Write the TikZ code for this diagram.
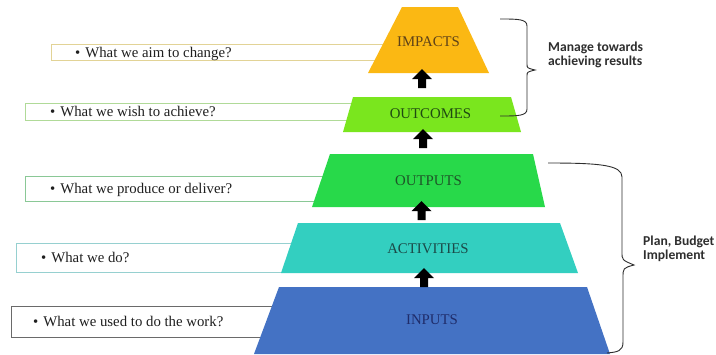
\documentclass[tikz,border=0pt]{standalone}
\usepackage{fontspec}
\setmainfont{Liberation Serif}
\newfontfamily\calibrifont{Carlito}
\definecolor{cimp}{HTML}{FBB813}
\definecolor{cout}{HTML}{7AE61E}
\definecolor{coutp}{HTML}{28D94A}
\definecolor{cact}{HTML}{33CFC0}
\definecolor{cinp}{HTML}{4472C4}
\definecolor{timp}{HTML}{5E4218}
\definecolor{tout}{HTML}{1F4A12}
\definecolor{toutp}{HTML}{1E5428}
\definecolor{tact}{HTML}{1B4A48}
\definecolor{tinp}{HTML}{1F2C6A}
\definecolor{bone}{HTML}{E2D396}
\definecolor{btwo}{HTML}{B0DA98}
\definecolor{bthree}{HTML}{8AC896}
\definecolor{bfour}{HTML}{96D0D0}
\definecolor{bfive}{HTML}{6A6A6A}
\definecolor{bracecol}{HTML}{2E2E2E}
\tikzset{
  levellabel/.style={anchor=base, inner sep=0pt, font=\fontsize{14.8}{16}\selectfont},
  qtext/.style={anchor=base west, inner sep=0pt, font=\fontsize{14.8}{16}\selectfont, text=black!88},
  qbox/.style={line width=0.9pt},
  sidelabel/.style={anchor=base west, inner sep=0pt, align=left, text=bracecol,
     font=\calibrifont\bfseries\fontsize{13.6}{14}\selectfont},
  bracepath/.style={draw=bracecol, line width=0.9pt},
  uparrow/.pic={\fill[black] (-4,0) -- (-4,-9) -- (-10,-9) -- (0,-19) -- (10,-9) -- (4,-9) -- (4,0) -- cycle;}
}
\begin{document}
\begin{tikzpicture}[x=1pt,y=-1pt]
\useasboundingbox[fill=white] (0,0) rectangle (716,354);
% question boxes (behind the pyramid)
\draw[qbox, draw=bone]   (51,44) rectangle (395,60);
\draw[qbox, draw=btwo]   (25,103) rectangle (360,120);
\draw[qbox, draw=bthree] (25,176) rectangle (330,201);
\draw[qbox, draw=bfour]  (16,243) rectangle (300,272);
\draw[qbox, draw=bfive]  (11,306) rectangle (280,337);
% pyramid levels
\fill[cimp]  (402,7) -- (458,7) -- (489,73) -- (368,73) -- cycle;
\fill[cout]  (353,97) -- (511,97) -- (521,132) -- (343,132) -- cycle;
\fill[coutp] (330,154) -- (533,154) -- (545,207) -- (312,207) -- cycle;
\fill[cact]  (298,223) -- (560,223) -- (578,273) -- (281,273) -- cycle;
\fill[cinp]  (279,287) -- (587,287) -- (610,354) -- (254,354) -- cycle;
% level labels
\node[levellabel, text=timp]  (impacts)    at (428.5,46)  {IMPACTS};
\node[levellabel, text=tout]  (outcomes)   at (430.5,118) {OUTCOMES};
\node[levellabel, text=toutp] (outputs)    at (428.5,185) {OUTPUTS};
\node[levellabel, text=tact]  (activities) at (428,253)   {ACTIVITIES};
\node[levellabel, text=tinp]  (inputs)     at (432,324)   {INPUTS};
% arrows
\pic at (422,88)  {uparrow};
\pic at (423,148) {uparrow};
\pic at (421.5,220) {uparrow};
\pic at (424,287) {uparrow};
% question texts
\node[qtext] (q1) at (75,57)  {\textbullet\hspace{5pt}What we aim to change?};
\node[qtext] (q2) at (50,116) {\textbullet\hspace{5pt}What we wish to achieve?};
\node[qtext] (q3) at (50,193) {\textbullet\hspace{5pt}What we produce or deliver?};
\node[qtext] (q4) at (41,262) {\textbullet\hspace{5pt}What we do?};
\node[qtext] (q5) at (33,326) {\textbullet\hspace{5pt}What we used to do the work?};
% braces
\draw[bracepath] (500,19) .. controls (518,19) and (527,19) .. (527,26) -- (527,64)
   .. controls (527,68) .. (535,70) .. controls (527,72) .. (527,76) -- (527,109)
   .. controls (527,116) and (518,116) .. (500,116);
\draw[bracepath] (548,163) .. controls (600,163) and (622,165) .. (622,177) -- (622,252)
   .. controls (622,260) .. (634,265) .. controls (623,268) .. (623,278) -- (623,342)
   .. controls (623,351) and (618,352) .. (607,353);
% side labels
\node[sidelabel] (manage) at (548,65) {Manage towards\\achieving results};
\node[sidelabel] (plan) at (643,259) {Plan, Budget\\Implement};
\end{tikzpicture}
\end{document}
